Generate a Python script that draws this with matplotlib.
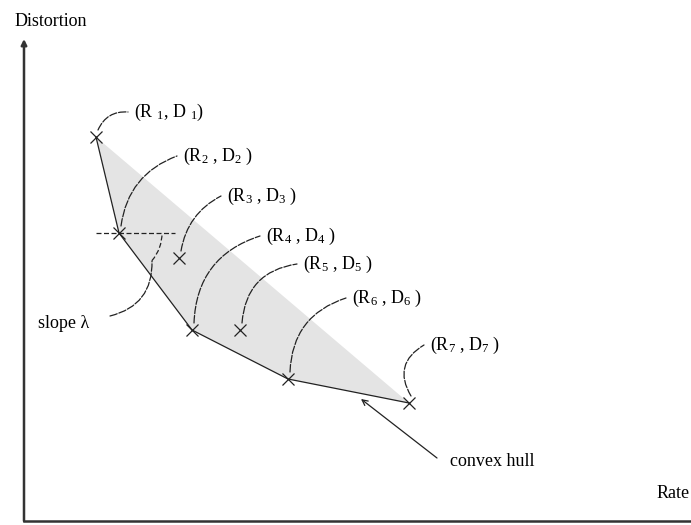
"""Operational rate-distortion points and their convex hull."""

import matplotlib

matplotlib.use("Agg")
import matplotlib.pyplot as plt
from matplotlib.patches import Arc

plt.rcParams["font.family"] = ["Liberation Serif", "DejaVu Serif"]
plt.rcParams["mathtext.fontset"] = "custom"
plt.rcParams["mathtext.rm"] = "Liberation Serif"
plt.rcParams["mathtext.it"] = "Liberation Serif:italic"

# operating points (arbitrary units)
rate = [0.72, 0.95, 1.55, 1.68, 2.16, 2.64, 3.85]
distortion = [3.84, 2.88, 2.63, 1.91, 1.91, 1.42, 1.18]
hull_idx = [0, 1, 3, 5, 6]
point_labels = ["(R $_1$, D $_1$)"] + [
    f"(R$_{{{i}}}$ , D$_{{{i}}}$ )" for i in range(2, 8)
]
label_x = [1.10, 1.59, 2.03, 2.42, 2.79, 3.28, 4.06]
label_y = [4.09, 3.65, 3.25, 2.85, 2.57, 2.23, 1.76]
leader_rad = [-0.35, -0.3, -0.25, -0.35, -0.4, -0.35, -0.5]

FS = 13

fig = plt.figure(figsize=(6.91, 5.25), dpi=100)
ax = fig.add_axes([0, 0, 1, 1])
ax.set_xlim(-0.24, 6.67)
ax.set_ylim(-0.04, 5.21)
ax.axis("off")

# shaded region between the hull and the chord from first to last point
hx = [rate[i] for i in hull_idx]
hy = [distortion[i] for i in hull_idx]
ax.fill(hx, hy, color="#e4e4e4", lw=0, zorder=1)
ax.plot(hx, hy, color="#222222", lw=0.9, zorder=2)
ax.plot(rate, distortion, ls="none", marker="x", ms=8, mew=0.9,
        color="#222222", zorder=3)

# labels with curved dashed leaders
for i, lab in enumerate(point_labels):
    ax.text(label_x[i], label_y[i], lab, fontsize=FS, ha="left", va="center")
    ax.annotate("", xy=(label_x[i] - 0.06, label_y[i]),
                xytext=(rate[i] + 0.02, distortion[i] + 0.07),
                arrowprops=dict(arrowstyle="-", color="#222222", lw=0.9,
                                ls=(0, (6, 1.5)), shrinkA=0, shrinkB=0,
                                connectionstyle=f"arc3,rad={leader_rad[i]}"))

# slope at point 2
ax.plot([rate[1] - 0.23, rate[1] + 0.56], [distortion[1]] * 2,
        color="#222222", lw=0.9, ls=(0, (4, 2)), zorder=2)
ax.add_patch(Arc((rate[1], distortion[1]), 0.86, 0.86, theta1=-40, theta2=0,
                 color="#222222", lw=0.9, ls=(0, (4, 2))))
ax.text(0.14, 1.98, "slope λ", fontsize=FS, ha="left", va="center")
ax.annotate("", xy=(1.28, 2.60), xytext=(0.86, 2.05),
            arrowprops=dict(arrowstyle="-", color="#222222", lw=0.9,
                            ls=(0, (6, 1.5)), shrinkA=0, shrinkB=0,
                            connectionstyle="arc3,rad=0.4"))

ax.text(4.26, 0.59, "convex hull", fontsize=FS, ha="left", va="center")
ax.annotate("", xy=(3.37, 1.22), xytext=(4.13, 0.63),
            arrowprops=dict(arrowstyle="->", color="#222222", lw=0.9,
                            shrinkA=0, shrinkB=0))

# axes with arrows
ax.annotate("", xy=(0, 4.82), xytext=(0, 0),
            arrowprops=dict(arrowstyle="-|>", color="#333333", lw=1.8,
                            mutation_scale=8, shrinkA=0, shrinkB=0))
ax.plot([0, 6.8], [0, 0], color="#333333", lw=1.8)
ax.text(-0.09, 4.99, "Distortion", fontsize=FS, ha="left", va="center")
ax.text(6.33, 0.28, "Rate", fontsize=FS, ha="left", va="center")

fig.savefig("out.png", dpi=100, facecolor="white")
